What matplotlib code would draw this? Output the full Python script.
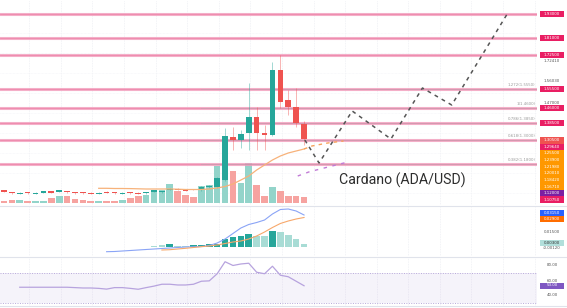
import matplotlib.pyplot as plt
from matplotlib.patches import Rectangle
from matplotlib.lines import Line2D

# ── Data ──────────────────────────────────────────────────────────────────────
idx = list(range(39))
opens = [1.048, 1.040, 1.031, 1.039, 1.031, 1.037, 1.043, 1.042, 1.045, 1.040,
         1.039, 1.036, 1.031, 1.041, 1.039, 1.031, 1.039, 1.036, 1.034, 1.042,
         1.039, 1.050, 1.057, 1.053, 1.055, 1.050, 1.063, 1.065, 1.100, 1.315,
         1.300, 1.335, 1.415, 1.335, 1.325, 1.650, 1.500, 1.465, 1.380]
closes = [1.042, 1.034, 1.036, 1.034, 1.036, 1.043, 1.037, 1.048, 1.039, 1.034,
          1.034, 1.031, 1.036, 1.036, 1.034, 1.036, 1.034, 1.031, 1.039, 1.048,
          1.044, 1.057, 1.050, 1.047, 1.050, 1.065, 1.070, 1.110, 1.320, 1.300,
          1.330, 1.415, 1.335, 1.325, 1.650, 1.490, 1.465, 1.385, 1.305]
highs = [1.051, 1.042, 1.038, 1.041, 1.038, 1.045, 1.045, 1.050, 1.047, 1.042,
         1.041, 1.038, 1.038, 1.043, 1.041, 1.038, 1.041, 1.038, 1.041, 1.050,
         1.046, 1.059, 1.059, 1.055, 1.057, 1.070, 1.075, 1.115, 1.360, 1.365,
         1.350, 1.585, 1.465, 1.375, 1.690, 1.725, 1.550, 1.560, 1.395]
lows = [1.040, 1.032, 1.029, 1.032, 1.029, 1.035, 1.035, 1.040, 1.037, 1.032,
        1.032, 1.029, 1.029, 1.034, 1.032, 1.029, 1.032, 1.029, 1.032, 1.040,
        1.037, 1.048, 1.048, 1.045, 1.048, 1.045, 1.058, 1.060, 1.095, 1.250,
        1.260, 1.250, 1.250, 1.250, 1.320, 1.460, 1.425, 1.365, 1.275]
volume = [2, 3, 3.3, 2.3, 1.6, 2.3, 5, 7.3, 7.3, 4, 2.6, 1.6, 1.6, 1.6, 1.6, 3.3,
          5, 7.3, 8.3, 13.3, 13.3, 19.3, 11.6, 8.3, 6, 16.6, 18, 36.6, 40, 31.6,
          20, 40, 18, 7, 16, 11.6, 7, 7, 6]

ma_idx = list(range(12, 39))
ma_vals = [1.0585, 1.0585, 1.0575, 1.0575, 1.057, 1.056, 1.055, 1.055, 1.055,
           1.055, 1.054, 1.0525, 1.0525, 1.0525, 1.055, 1.06, 1.0675, 1.08, 1.10,
           1.12, 1.15, 1.175, 1.20, 1.22, 1.235, 1.245, 1.255]
ma_future_idx = [38, 39, 40, 41, 42, 43]
ma_future = [1.255, 1.27, 1.2775, 1.285, 1.29, 1.295]
purple_future_idx = [37.2, 38.7, 43.2]
purple_future = [1.12, 1.1415, 1.1865]

levels = [1.930, 1.810, 1.725, 1.555, 1.460, 1.385, 1.300, 1.180]
fib_levels = [1.555, 1.460, 1.385, 1.300, 1.180]
fib_texts = ["1.272(1.5550)", "1(1.4600)", "0.786(1.3850)", "0.618(1.3000)", "0.382(1.1800)"]

proj_idx = [38.1, 39.9, 44.1, 49.0, 53.0, 56.7, 63.8]
proj_price = [1.300, 1.185, 1.445, 1.305, 1.560, 1.475, 1.935]

macd_idx = list(range(13, 39))
macd = [-5.2, -5.0, -4.5, -4.0, -3.5, -3.0, -2.5, -2.0, -1.5, -1.0, -0.5, -0.3, 0.0,
        1.0, 3.5, 7.5, 13.0, 18.5, 22.0, 24.0, 26.5, 32.5, 37.0, 37.5, 35.5, 31.5]
signal_idx = list(range(20, 39))
signal = [-3.5, -3.2, -2.5, -1.8, -1.0, -0.2, 0.5, 1.5, 3.0, 4.5, 5.5, 7.5, 10.5,
          14.5, 19.0, 23.0, 25.5, 27.5, 29.0]
hist_idx = list(range(19, 39))
hist = [0.5, 1.5, 2.5, 1, 1, 1.5, 2, 2.5, 3, 8, 10, 11, 13, 11, 11, 15.5, 15, 12, 8, 3]
hist_rising = [0, 0, 1, 0, 0, 1, 1, 1, 1, 1, 1, 1, 1, 0, 0, 1, 0, 0, 0, 0]

rsi_idx = list(range(2, 39))
rsi = [51, 51, 51, 51, 51, 51, 51, 50.5, 50, 50, 49.5, 48.5, 50.5, 50.5, 49.5, 48.3,
       50.5, 52.5, 55, 55, 54, 54, 55, 59, 59.5, 69, 85, 80, 82, 83, 71, 69, 79, 67,
       65, 59, 53]

# ── Figure ────────────────────────────────────────────────────────────────────
W, H = 567, 308
fig = plt.figure(figsize=(W / 100, H / 100), dpi=100)
fig.patch.set_facecolor("white")

def px_axes(x0, y0, x1, y1):
    a = fig.add_axes([x0 / W, 1 - y1 / H, (x1 - x0) / W, (y1 - y0) / H])
    a.set_xlim(-0.5, 67.5)
    a.axis("off")
    return a

GREEN, RED = "#26a69a", "#ef5350"
grid_x = [3.2 + 4 * n for n in range(17)]

# volume (behind everything)
axv = px_axes(0, 0, 537, 205)
axv.set_ylim(-2, 203)
vcol = ["#93d4ca" if c >= o else "#f6a3a0" for o, c in zip(opens, closes)]
axv.bar(idx, volume, width=0.84, color=vcol, zorder=2)
for g in grid_x:
    axv.axvline(g, color="#eef0f4", lw=0.6, ls=(0, (1, 1)), zorder=0)
for gy in range(10, 200, 20):
    axv.axhline(gy, color="#f3f4f8", lw=0.5, ls=(0, (1, 1)), zorder=0)

ax = px_axes(0, 0, 537, 205)
ax.set_ylim(0.975, 2.0)

for p in levels:
    ax.axhline(p, color="#f29bbb", lw=2.2, alpha=0.8, zorder=3)
    ax.axhline(p, color="#e8608e", lw=0.6, alpha=0.5, zorder=3)
for p in fib_levels:
    ax.plot([25, 67.5], [p, p], color="#b0a8b0", lw=0.6, alpha=0.5, zorder=3)
for p, t in zip(fib_levels, fib_texts):
    ax.text(67.3, p + 0.012, t, fontsize=2.8, color="#9a9a9a", ha="right", va="bottom")

# candles
for i, o, c, h, l in zip(idx, opens, closes, highs, lows):
    col = GREEN if c >= o else RED
    ax.vlines(i, l, h, color=col, lw=0.6, alpha=0.5, zorder=4)
    ax.bar(i, max(abs(c - o), 0.004), bottom=min(o, c), width=0.72, color=col, zorder=5)

ax.plot(ma_idx, ma_vals, color="#f7b27a", lw=0.9, zorder=6)
ax.plot(ma_future_idx, ma_future, color="#f7a25a", lw=1.0, ls=(0, (2.5, 3)), zorder=6)
ax.plot(purple_future_idx, purple_future, color="#c27bd6", lw=1.0, ls=(0, (2.5, 4)), zorder=6)
ax.plot(proj_idx, proj_price, color="#555555", lw=1.1, ls=(0, (2.5, 2.8)), zorder=7)

fig.text(339 / W, 1 - 180 / H, "Cardano (ADA/USD)", fontsize=10.2, family="Roboto",
         color="#2e2e2e", ha="left", va="center")

# ── MACD panel ────────────────────────────────────────────────────────────────
axm = px_axes(0, 207, 537, 256)
axm.set_ylim(-9.5, 39.5)
for g in grid_x:
    axm.axvline(g, color="#eef0f4", lw=0.6, ls=(0, (1, 1)), zorder=0)
hcol = [GREEN if r else "#a8dcd5" for r in hist_rising]
axm.bar(hist_idx, hist, width=0.84, color=hcol, zorder=2)
axm.plot(macd_idx, macd, color="#8aa4f6", lw=0.8, zorder=3)
axm.plot(signal_idx, signal, color="#f7a86b", lw=0.8, zorder=3)

# ── RSI panel ─────────────────────────────────────────────────────────────────
axr = px_axes(0, 257, 537, 306)
axr.set_ylim(26, 91.3)
axr.axhspan(30, 70, color="#7e57c2", alpha=0.07, lw=0)
axr.axhline(70, color="#b7a8d9", lw=0.7, ls=(0, (1, 1.5)))
axr.axhline(30, color="#b7a8d9", lw=0.7, ls=(0, (1, 1.5)))
for g in grid_x:
    axr.axvline(g, color="#eef0f4", lw=0.6, ls=(0, (1, 1)), zorder=0)
axr.plot(rsi_idx, rsi, color="#b7a3de", lw=0.9)

# ── separators ────────────────────────────────────────────────────────────────
for y in [206, 256.5, 306]:
    fig.add_artist(Line2D([0, 1], [1 - y / H] * 2, transform=fig.transFigure,
                          color="#e0e3eb", lw=0.8))

# ── price-scale tags ──────────────────────────────────────────────────────────
def tag(yc, text, color, h=6.0, fg="white"):
    fig.add_artist(Rectangle((540 / W, 1 - (yc + h / 2) / H), 24 / W, h / H,
                             transform=fig.transFigure, fc=color, ec="none"))
    fig.text(552 / W, 1 - yc / H, text, fontsize=2.9, color=fg, ha="center", va="center")

def ylab(yc, text):
    fig.text(552 / W, 1 - yc / H, text, fontsize=2.9, color="#555555", ha="center", va="center")

def price_to_px(p):
    return (2.0 - p) / 0.005

for p in levels[:6]:
    tag(price_to_px(p), f"{p:.5f}", "#e91e63")
ylab(61, "1.72410")
ylab(81, "1.56030")
ylab(102.5, "1.47000")

stack_colors = ["#ef5350", "#e91e63", "#ff9800", "#ff9800", "#ff9800", "#ff9800",
                "#ff9800", "#ff9800", "#7b1fa2", "#e91e63"]
stack_texts = ["1.30500", "1.29640", "1.25500", "1.23900", "1.21980", "1.20010",
               "1.18420", "1.16710", "1.12000", "1.10750"]
for n, (c, t) in enumerate(zip(stack_colors, stack_texts)):
    tag(137 + 3.3 + n * 6.6, t, c, h=6.6)

tag(212.5, f"{macd[-1] / 1000:.5f}", "#2962ff")
tag(218.5, f"{signal[-1] / 1000:.5f}", "#ff6d00")
ylab(231.7, "0.01500")
tag(243.0, f"{hist[-1] / 1000:.5f}", "#b2dfdb", fg="#333333")
ylab(248, "-0.00120")

ylab(265.5, "80.00")
ylab(280.5, "60.00")
tag(285.5, f"{rsi[-1]:.2f}", "#7e57c2")
ylab(295.5, "40.00")

plt.savefig("out.png", dpi=100)
